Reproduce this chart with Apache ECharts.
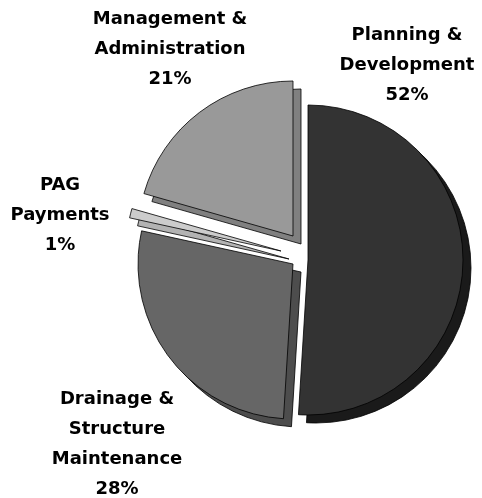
<!DOCTYPE html>
<html><head><meta charset="utf-8">
<script src="https://cdn.jsdelivr.net/npm/echarts@6/dist/echarts.min.js"></script>
<style>html,body{margin:0;padding:0;background:#fff}#c{width:482px;height:498px}</style>
</head><body><div id="c"></div>
<script>
// ---- data ----
const categories = ['Planning &\nDevelopment', 'Drainage &\nStructure\nMaintenance', 'PAG\nPayments', 'Management &\nAdministration'];
const values = [52, 28, 1, 21];

// ---- layout / style ----
const faceColors = ['#333333', '#666666', '#cccccc', '#999999'];
const sideColors = ['#1a1a1a', '#4d4d4d', '#b3b3b3', '#808080'];
const centers = [[308, 260], [293, 264], [281, 251], [293, 236]];
const labelPos = [[407, 65], [117, 444], [60, 215], [170, 49]];
const depth = [8, 8];
const R = 155;

const chart = echarts.init(document.getElementById('c'));
const hidden = { itemStyle: { color: 'rgba(0,0,0,0)', borderWidth: 0 }, label: { show: false }, labelLine: { show: false } };

function sliceSeries(i, isFace) {
  const c = isFace ? centers[i] : [centers[i][0] + depth[0], centers[i][1] + depth[1]];
  return {
    type: 'pie',
    z: isFace ? 3 : 2,
    silent: true,
    animation: false,
    startAngle: 90,
    clockwise: true,
    center: c,
    radius: [0, R],
    avoidLabelOverlap: false,
    emphasis: { disabled: true },
    labelLine: { show: false },
    label: {
      show: isFace,
      position: 'outside',
      formatter: '{b}\n{c}%',
      fontFamily: 'DejaVu Sans',
      fontWeight: 'bold',
      fontSize: 18,
      lineHeight: 30,
      color: '#000',
      align: 'center'
    },
    labelLayout: isFace ? function () {
      return { x: labelPos[i][0], y: labelPos[i][1], align: 'center', verticalAlign: 'middle' };
    } : undefined,
    data: categories.map((name, j) => {
      if (j !== i) return Object.assign({ name: name, value: values[j] }, hidden);
      return {
        name: name,
        value: values[j],
        itemStyle: { color: isFace ? faceColors[j] : sideColors[j], borderColor: '#000', borderWidth: 0.8 }
      };
    })
  };
}

const series = [];
categories.forEach((_, i) => series.push(sliceSeries(i, false)));
categories.forEach((_, i) => series.push(sliceSeries(i, true)));

chart.setOption({ backgroundColor: '#ffffff', animation: false, series: series });
</script>
</body></html>
